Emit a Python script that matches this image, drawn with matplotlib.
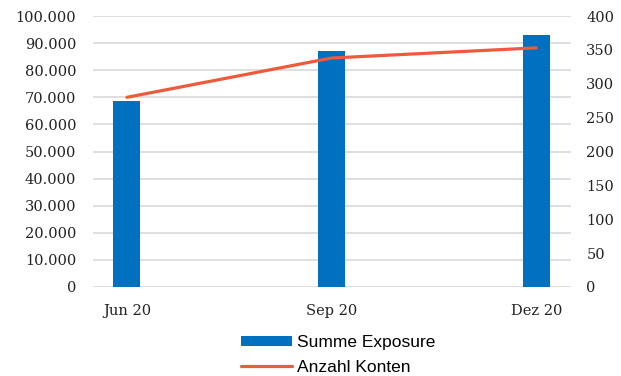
import matplotlib.pyplot as plt
import numpy as np

quarters = ["Jun 20", "Sep 20", "Dez 20"]
exposure = [68500, 87200, 93000]
accounts = [280, 338, 353]

left_ticks = np.arange(0, 100001, 10000)
right_ticks = np.arange(0, 401, 50)


def de_fmt(v):
    return f"{int(v):,}".replace(",", ".")


fig = plt.figure(figsize=(6.21, 3.76), dpi=100)
ax = fig.add_axes([93 / 621, 1 - 287 / 376, (571 - 93) / 621, (287 - 16) / 376])
ax2 = ax.twinx()

x = np.arange(len(quarters))
bars = ax.bar(x, exposure, width=0.132, color="#0070C0", zorder=3, label="Summe Exposure")
line, = ax2.plot(x, accounts, color="#EE5A3C", lw=2.3, solid_capstyle="round", zorder=4,
                 label="Anzahl Konten")

ax.set_xlim(-0.166, 2.17)
ax.set_ylim(0, 100000)
ax2.set_ylim(0, 400)
ax.set_yticks(left_ticks)
ax.set_yticklabels([de_fmt(v) for v in left_ticks])
ax2.set_yticks(right_ticks)
ax2.set_yticklabels([str(v) for v in right_ticks])
ax.set_xticks(x)
ax.set_xticklabels(quarters)

serif = "DejaVu Serif"
for lab in ax.get_yticklabels() + ax.get_xticklabels() + ax2.get_yticklabels():
    lab.set_fontfamily(serif)
    lab.set_fontsize(10.5)
    lab.set_color("#222222")

ax.grid(axis="y", color="#D9D9D9", lw=1.2, zorder=0)
ax.set_axisbelow(True)
for a in (ax, ax2):
    for s in a.spines.values():
        s.set_visible(False)
    a.tick_params(length=0)
ax.tick_params(axis="y", pad=12)
ax.tick_params(axis="x", pad=12)
ax2.tick_params(axis="y", pad=11)

fig.legend([bars, line], ["Summe Exposure", "Anzahl Konten"], loc="center",
           bbox_to_anchor=(338 / 621, 1 - 355 / 376), ncol=1, frameon=False,
           prop={"family": "Liberation Sans", "size": 12.5}, handlelength=2.95,
           handleheight=0.5, labelspacing=0.55, handletextpad=0.3)

fig.savefig("out.png", dpi=100)
